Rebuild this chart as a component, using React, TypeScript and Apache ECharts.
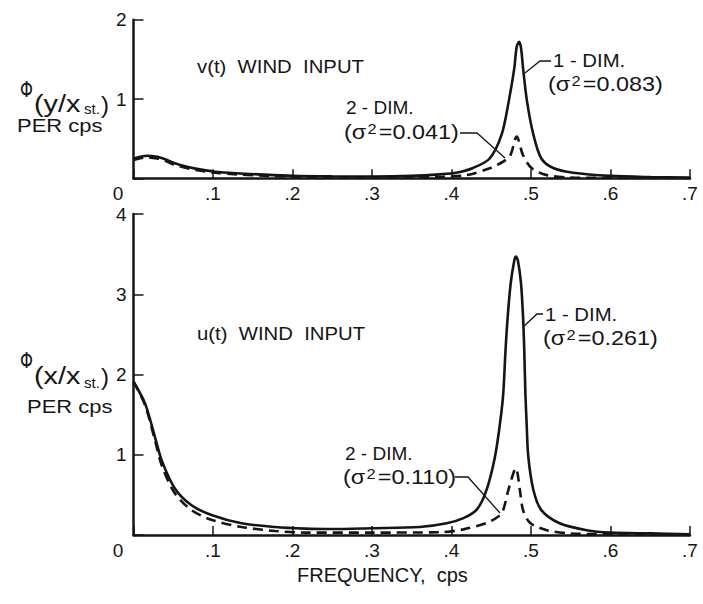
import React, { useEffect, useRef } from 'react';
import * as echarts from 'echarts';

// ---------- data ----------
const xTicks = [0, 0.1, 0.2, 0.3, 0.4, 0.5, 0.6, 0.7];
const yTicksTop = [0, 1, 2];
const yTicksBottom = [0, 1, 2, 3, 4];

// v(t) wind input, 1-DIM (solid)
const freqV1 = [0, 0.01, 0.017, 0.03, 0.04, 0.052, 0.07, 0.085, 0.1025, 0.13, 0.157, 0.2, 0.25, 0.3, 0.35, 0.3855, 0.406, 0.427, 0.448, 0.463, 0.472, 0.479, 0.482, 0.485, 0.4875, 0.49, 0.495, 0.503, 0.513, 0.528, 0.553, 0.6, 0.65, 0.7];
const psdV1 = [0.25, 0.275, 0.285, 0.27, 0.24, 0.19, 0.14, 0.11, 0.083, 0.063, 0.05, 0.033, 0.025, 0.022, 0.03, 0.05, 0.07, 0.13, 0.25, 0.55, 0.97, 1.39, 1.66, 1.72, 1.64, 1.39, 0.97, 0.55, 0.25, 0.13, 0.07, 0.03, 0.015, 0.008];

// v(t) wind input, 2-DIM (dashed)
const freqV2 = [0, 0.01, 0.017, 0.03, 0.04, 0.052, 0.07, 0.085, 0.1025, 0.13, 0.157, 0.2, 0.25, 0.3, 0.35, 0.39, 0.419, 0.448, 0.465, 0.474, 0.482, 0.49, 0.501, 0.52, 0.55, 0.6, 0.7];
const psdV2 = [0.23, 0.255, 0.265, 0.25, 0.22, 0.17, 0.12, 0.095, 0.07, 0.05, 0.035, 0.02, 0.012, 0.01, 0.012, 0.02, 0.04, 0.126, 0.21, 0.29, 0.525, 0.29, 0.126, 0.04, 0.01, 0.004, 0.0];

// u(t) wind input, 1-DIM (solid)
const freqU1 = [0, 0.0145, 0.027, 0.0355, 0.052, 0.073, 0.098, 0.136, 0.178, 0.216, 0.25, 0.3, 0.36, 0.394, 0.415, 0.432, 0.444, 0.4547, 0.461, 0.465, 0.468, 0.4707, 0.4745, 0.479, 0.481, 0.4835, 0.4874, 0.49, 0.4915, 0.493, 0.4945, 0.4966, 0.503, 0.513, 0.536, 0.57, 0.6, 0.65, 0.7];
const psdU1 = [1.91, 1.64, 1.22, 0.93, 0.58, 0.37, 0.25, 0.146, 0.1, 0.08, 0.075, 0.085, 0.1, 0.146, 0.21, 0.32, 0.56, 0.976, 1.39, 1.75, 2.31, 2.72, 3.14, 3.42, 3.47, 3.42, 3.14, 2.72, 2.31, 1.75, 1.39, 0.976, 0.56, 0.31, 0.146, 0.06, 0.03, 0.02, 0.01];

// u(t) wind input, 2-DIM (dashed)
const freqU2 = [0, 0.0145, 0.027, 0.0355, 0.052, 0.073, 0.098, 0.136, 0.178, 0.216, 0.3, 0.386, 0.415, 0.444, 0.459, 0.465, 0.4715, 0.481, 0.486, 0.49, 0.499, 0.52, 0.549, 0.6, 0.7];
const psdU2 = [1.91, 1.62, 1.18, 0.87, 0.52, 0.31, 0.19, 0.1, 0.05, 0.03, 0.03, 0.035, 0.07, 0.15, 0.23, 0.31, 0.56, 0.83, 0.56, 0.31, 0.15, 0.06, 0.02, 0.01, 0.005];

const FONT = '"Liberation Sans", Arial, sans-serif';
const GREEK = '"DejaVu Sans", "Noto Sans", sans-serif';
const INK = '#151515';

const pairs = (xs: number[], ys: number[]) => xs.map((x, i) => [x, ys[i]]);

function xAxisCfg(gridIndex: number) {
  return {
    type: 'value',
    gridIndex,
    min: xTicks[0],
    max: xTicks[xTicks.length - 1],
    interval: 0.1,
    axisLine: { show: true, onZero: false, lineStyle: { color: INK, width: 2.5 } },
    axisTick: { show: true, inside: true, length: 9, lineStyle: { color: INK, width: 1.5 } },
    splitLine: { show: false },
    axisLabel: {
      margin: 6,
      fontSize: 19,
      fontFamily: FONT,
      color: INK,
      formatter: (v: number) => (Math.abs(v) < 1e-9 ? '{z|0}' : '.' + Math.round(v * 10)),
      rich: { z: { fontSize: 19, fontFamily: FONT, color: INK, padding: [0, 31, 0, 0] } },
    },
  };
}

function yAxisCfg(gridIndex: number, ticks: number[]) {
  return {
    type: 'value',
    gridIndex,
    min: ticks[0],
    max: ticks[ticks.length - 1],
    interval: 1,
    axisLine: { show: true, lineStyle: { color: INK, width: 2.5 } },
    axisTick: { show: true, inside: true, length: 10, lineStyle: { color: INK, width: 1.5 } },
    splitLine: { show: false },
    axisLabel: {
      margin: 7,
      fontSize: 19,
      fontFamily: FONT,
      color: INK,
      formatter: (v: number) => (v === 0 ? '' : String(v)),
    },
  };
}

function lineSeries(x: number, data: number[][], dashed: boolean) {
  return {
    type: 'line',
    xAxisIndex: x,
    yAxisIndex: x,
    data,
    smooth: 0.3,
    showSymbol: false,
    symbol: 'none',
    lineStyle: { color: INK, width: 2.6, type: dashed ? [10, 6] : 'solid' },
    z: 3,
  };
}

function txt(text: string, x: number, y: number, size: number, scaleX = 1, extra: any = {}) {
  return {
    type: 'text',
    x,
    y,
    scaleX,
    silent: true,
    style: {
      text,
      fontSize: size,
      fontFamily: FONT,
      fill: INK,
      textAlign: 'left',
      align: 'left',
      textVerticalAlign: 'middle',
      verticalAlign: 'middle',
      ...extra,
    },
  };
}

const sigmaRich = {
  sup: { fontSize: 14, fontFamily: FONT, fill: INK, verticalAlign: 'top', padding: [0, 2, 6, 1] },
};

function sigma(value: string, x: number, y: number) {
  return txt('(σ{sup|2}=' + value + ')', x, y, 20, 1.17, { rich: sigmaRich });
}

function leader(points: number[][]) {
  return {
    type: 'polyline',
    silent: true,
    shape: { points },
    style: { stroke: INK, lineWidth: 1.3, fill: null },
  };
}

function yTitle(variable: string, x: number, yPhi: number, yPar: number, ySt: number, yPer: number, xPer: number) {
  return [
    txt('\u03A6', x, yPhi, 22, 0.75, { fontFamily: GREEK }),
    txt('(' + variable + '/x', x + 14, yPar, 24, 1.2),
    txt('st.', x + 64, ySt, 15, 1.0),
    txt(')', x + 81, yPar, 24, 1.0),
    txt('PER cps', xPer, yPer, 18, 1.22),
  ];
}

export default function App() {
  const ref = useRef<HTMLDivElement>(null);
  useEffect(() => {
    const chart = echarts.init(ref.current!, null, { renderer: 'svg' });
    chart.setOption({
      animation: false,
      backgroundColor: '#ffffff',
      grid: [
        { left: 133.5, top: 19.7, width: 556.5, height: 158.6 },
        { left: 133.5, top: 214, width: 556.5, height: 321 },
      ],
      xAxis: [xAxisCfg(0), xAxisCfg(1)],
      yAxis: [yAxisCfg(0, yTicksTop), yAxisCfg(1, yTicksBottom)],
      series: [
        lineSeries(0, pairs(freqV1, psdV1), false),
        lineSeries(0, pairs(freqV2, psdV2), true),
        lineSeries(1, pairs(freqU1, psdU1), false),
        lineSeries(1, pairs(freqU2, psdU2), true),
      ],
      graphic: [
        // top panel annotations
        txt('v(t)  WIND  INPUT', 197, 66, 19, 1.07),
        txt('1 - DIM.', 553, 60, 19, 1.07),
        sigma('0.083', 548, 84),
        leader([[551, 61], [540, 61], [525, 73]]),
        txt('2 - DIM.', 346, 107, 19),
        sigma('0.041', 344, 132),
        leader([[460, 133], [477, 133], [505, 158]]),
        // bottom panel annotations
        txt('u(t)  WIND  INPUT', 197, 333, 19, 1.07),
        txt('1 - DIM.', 545, 314, 19, 1.07),
        sigma('0.261', 543, 338),
        leader([[543, 314], [537, 314], [523, 327]]),
        txt('2 - DIM.', 345, 453, 19),
        sigma('0.110', 343, 477),
        leader([[455, 477], [468, 477], [500, 513]]),
        // y-axis titles
        ...yTitle('y', 20, 90, 104, 108, 126, 17),
        ...yTitle('x', 20, 361, 376, 382, 407, 27),
        // x-axis title
        txt('FREQUENCY,  cps', 297, 575, 20),
      ],
    });
    return () => chart.dispose();
  }, []);
  return (
    <div
      ref={ref}
      style={{ position: 'absolute', left: 0, top: 0, width: 703, height: 604, background: '#ffffff' }}
    />
  );
}
